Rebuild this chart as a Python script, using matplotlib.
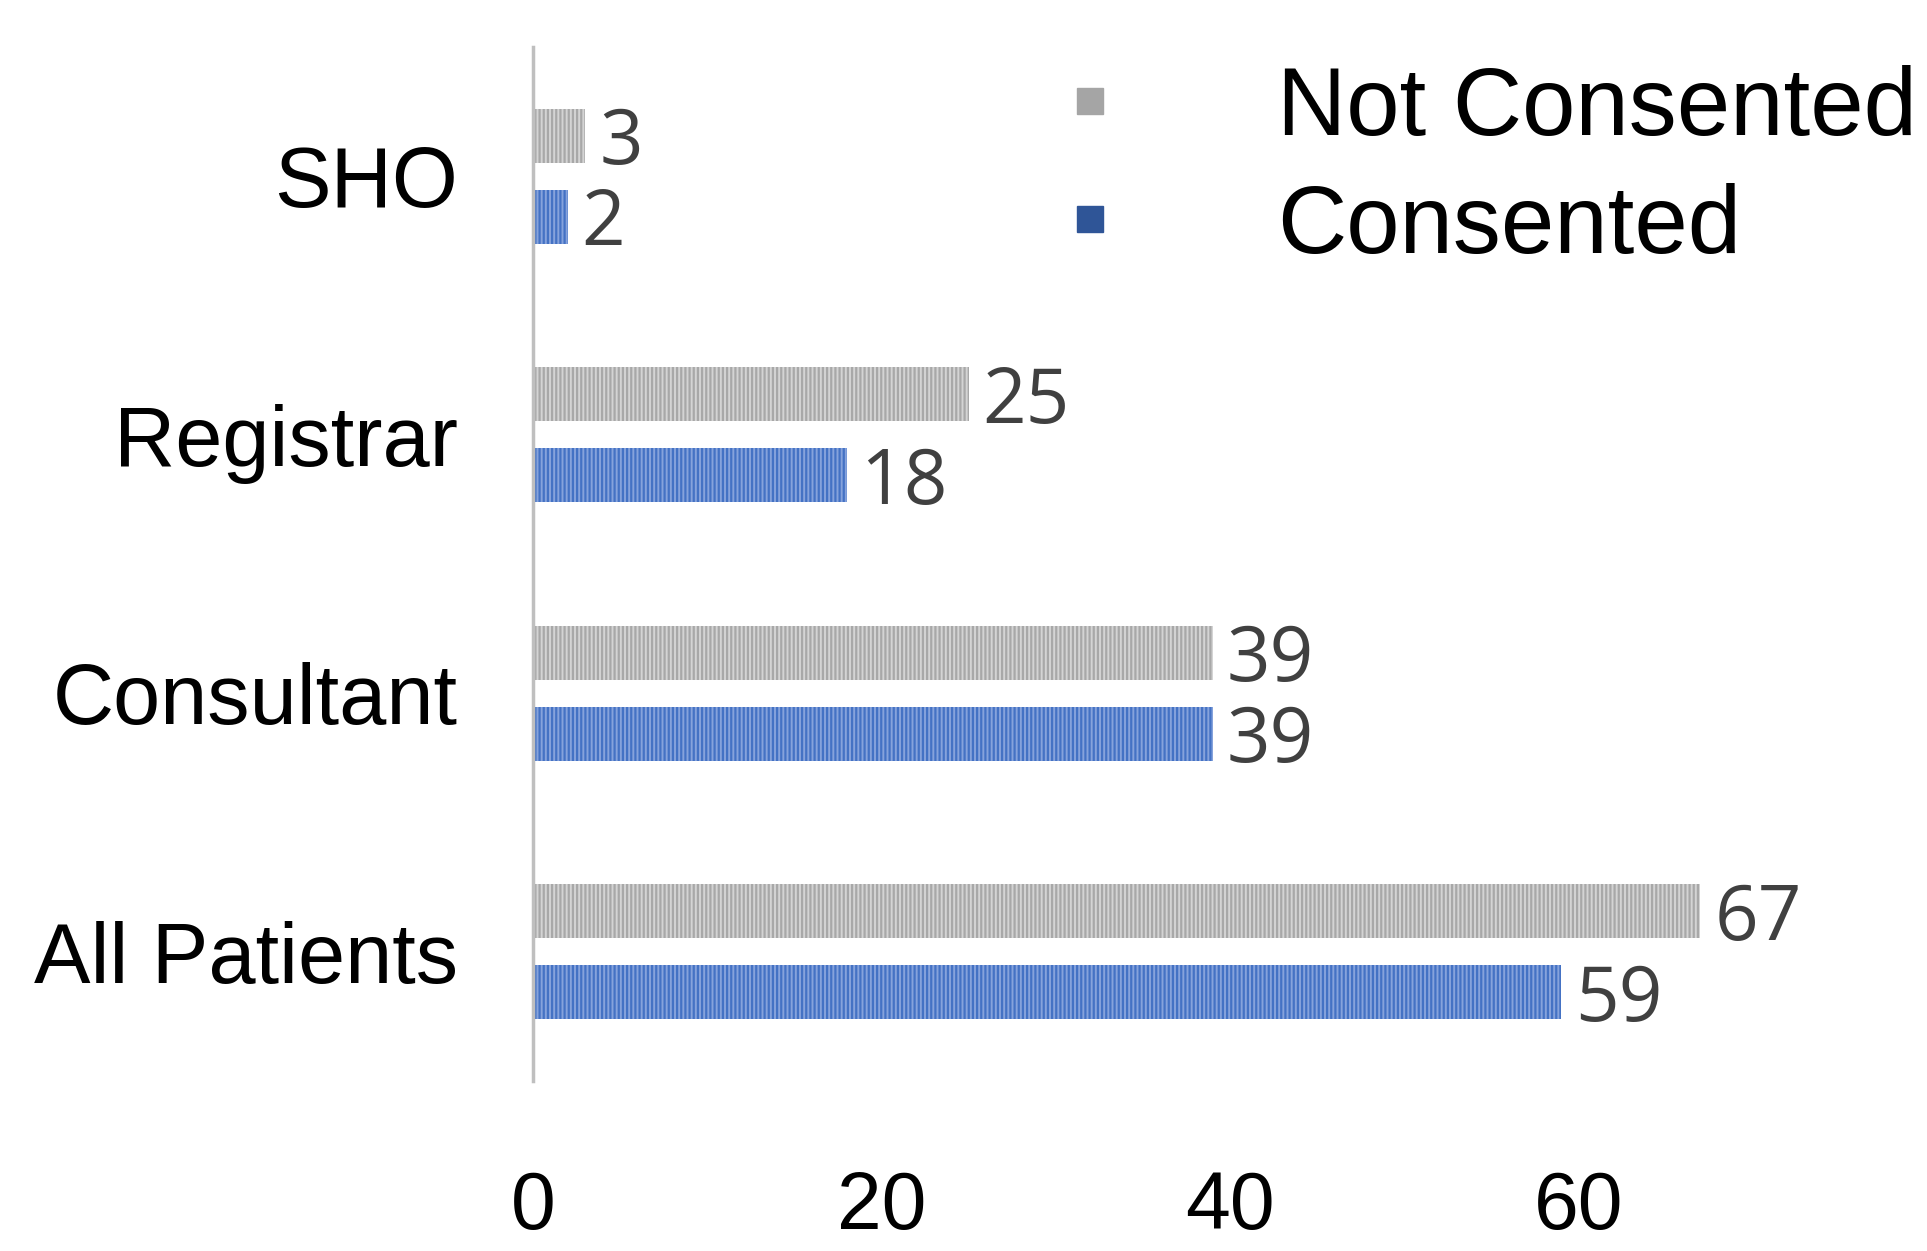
import matplotlib
matplotlib.use("Agg")
import matplotlib.pyplot as plt
from matplotlib.lines import Line2D
import numpy as np

categories = ["SHO", "Registrar", "Consultant", "All Patients"]
not_consented = [3, 25, 39, 67]
consented = [2, 18, 39, 59]
xticks = [0, 20, 40, 60]

W, H = 1927, 1251
fig = plt.figure(figsize=(W / 100, H / 100), dpi=100)
ax = fig.add_axes([533 / W, 1 - 1081 / H, (W - 533) / W, (1081 - 47) / H])

y = np.arange(len(categories))
off = 0.157
bh = 0.209
plt.rcParams['hatch.linewidth'] = 1.6

b1 = ax.barh(y - off, not_consented, height=bh, color="#d4d4d4", edgecolor="#a8a8a8",
             hatch="||||", linewidth=0)
b2 = ax.barh(y + off, consented, height=bh, color="#86a3dc", edgecolor="#4472c4",
             hatch="||||", linewidth=0)

for bars, vals in ((b1, not_consented), (b2, consented)):
    for rect, v in zip(bars, vals):
        ax.annotate(str(v), xy=(v, rect.get_y() + rect.get_height() / 2),
                    xytext=(10, -6), textcoords="offset points", va="center", ha="left",
                    fontsize=55, color="#404040", family=["Open Sans", "DejaVu Sans"])

ax.set_ylim(len(categories) - 0.5, -0.5)
ax.set_xlim(0, 80)
ax.set_yticks(y)
ax.set_yticklabels(categories, fontsize=61, family=["Liberation Sans", "DejaVu Sans"])
ax.set_xticks(xticks)
ax.set_xticklabels([str(t) for t in xticks], fontsize=58,
                   family=["Liberation Sans", "DejaVu Sans"])
ax.tick_params(axis="y", length=0, pad=54)
ax.tick_params(axis="x", length=0, pad=64)

for s in ("top", "right", "bottom"):
    ax.spines[s].set_visible(False)
ax.spines["left"].set_color("#bfbfbf")
ax.spines["left"].set_linewidth(2.5)

handles = [Line2D([], [], marker="s", linestyle="none", markersize=19, color="#a5a5a5"),
           Line2D([], [], marker="s", linestyle="none", markersize=19, color="#2f5597")]
leg = ax.legend(handles, ["Not Consented", "Consented"], loc="upper left",
                bbox_to_anchor=(1066 / W, 1 - 65 / H), bbox_transform=fig.transFigure,
                frameon=False, borderpad=0, borderaxespad=0, handlelength=0.5,
                handletextpad=1.7, labelspacing=0.29,
                prop={"family": ["Liberation Sans", "DejaVu Sans"], "size": 69})

fig.savefig("out.png", dpi=100)
